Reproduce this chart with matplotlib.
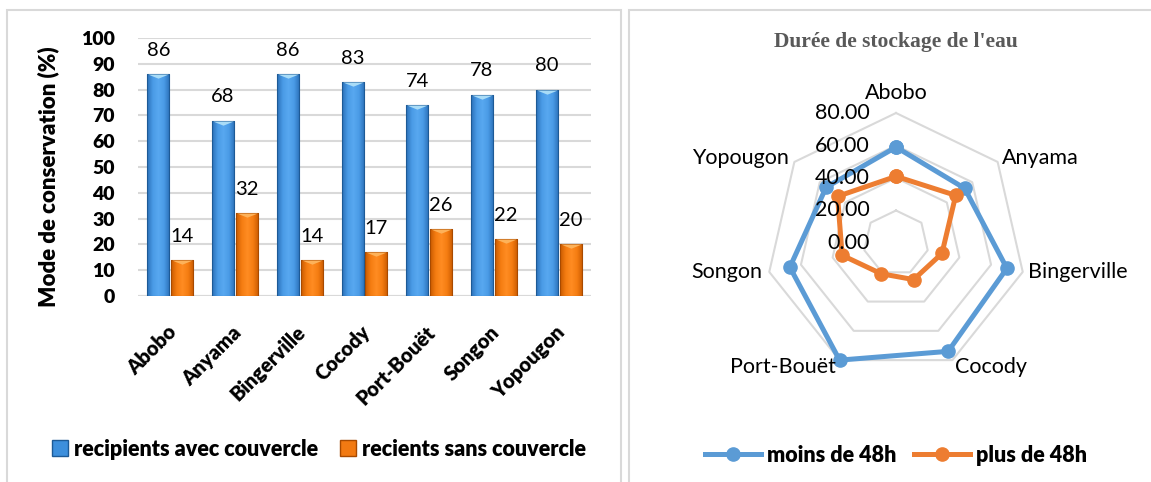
import numpy as np
import matplotlib
matplotlib.use("Agg")
import matplotlib.pyplot as plt
import matplotlib.transforms as mtransforms
from matplotlib.colors import LinearSegmentedColormap
from matplotlib.patches import Rectangle
from matplotlib.lines import Line2D

plt.rcParams['font.family'] = ['Lato', 'DejaVu Sans']

# data
communes = ['Abobo', 'Anyama', 'Bingerville', 'Cocody', 'Port-Bouët', 'Songon', 'Yopougon']
avec_couvercle = [86, 68, 86, 83, 74, 78, 80]
sans_couvercle = [14, 32, 14, 17, 26, 22, 20]
bar_series = ['recipients avec couvercle', 'recients sans couvercle']

moins_48h = [59, 54, 70, 74, 80, 67, 55]
plus_48h = [41, 47, 29, 25, 21, 34, 46]
radar_series = ['moins de 48h', 'plus de 48h']
radar_ticks = [0, 20, 40, 60, 80]

W, H = 1151, 482
fig = plt.figure(figsize=(W / 100, H / 100), dpi=100)

def px(x0, y0, w, h):
    # pixel box (from top-left) -> figure fraction
    return [x0 / W, 1 - (y0 + h) / H, w / W, h / H]

# panel borders
fig.patches.append(Rectangle((7 / W, -0.05), (621 - 7) / W, 1 - 9.5 / H + 0.05,
                             transform=fig.transFigure, fill=False,
                             edgecolor='#d9d9d9', lw=1.5))
fig.patches.append(Rectangle((629 / W, -0.05), 1.2, 1 - 9.5 / H + 0.05,
                             transform=fig.transFigure, fill=False,
                             edgecolor='#d9d9d9', lw=1.5))

# ---- bar chart ----
ax = fig.add_axes(px(138, 38, 453, 258))
x = np.arange(len(communes))
w, off = 0.34, 0.185
blue, blue_edge, blue_top = '#3d8fdc', '#1d5a96', '#a9dcf7'
orange, orange_edge, orange_top = '#f27a12', '#a84a00', '#fdb25a'
blue_cm = LinearSegmentedColormap.from_list('b', ['#2b70b8', '#4a9be6', '#58a8f0', '#4a9be6', '#2b70b8'])
orange_cm = LinearSegmentedColormap.from_list('o', ['#c95a00', '#f57d12', '#ff8c22', '#f57d12', '#c95a00'])
grad = np.linspace(0, 1, 64).reshape(1, -1)

bars_b = ax.bar(x - off, avec_couvercle, w, color='none', edgecolor=blue_edge, lw=0.8, zorder=4)
bars_o = ax.bar(x + off, sans_couvercle, w, color='none', edgecolor=orange_edge, lw=0.8, zorder=4)
for bars, cm in ((bars_b, blue_cm), (bars_o, orange_cm)):
    for p in bars:
        x0, y0 = p.get_x(), p.get_y()
        im = ax.imshow(grad, extent=[x0, x0 + p.get_width(), y0, y0 + p.get_height()],
                       aspect='auto', cmap=cm, zorder=3)
        im.set_clip_path(p)

tri = [(-1, 0), (1, 0), (0, -0.4)]
ax.scatter(x - off, avec_couvercle, marker=tri, s=15 ** 2, color=blue_top, lw=0, zorder=5)
ax.scatter(x + off, sans_couvercle, marker=tri, s=15 ** 2, color=orange_top, lw=0, zorder=5)

for xi, v in zip(x, avec_couvercle):
    ax.annotate(str(v), (xi - off, v), xytext=(0, 11), textcoords='offset points',
                ha='center', va='bottom', fontsize=14.5, clip_on=False)
for xi, v in zip(x, sans_couvercle):
    ax.annotate(str(v), (xi + off, v), xytext=(0, 11), textcoords='offset points',
                ha='center', va='bottom', fontsize=14.5, clip_on=False)

ax.set_xlim(-0.5, len(communes) - 0.5)
ax.set_ylim(0, 100)
ax.set_yticks(range(0, 101, 10))
ax.tick_params(axis='y', length=0, pad=16.5, labelsize=14)
for t in ax.get_yticklabels():
    t.set_fontweight('heavy')
ax.set_xticks(x)
ax.set_xticklabels(communes, rotation=45, ha='right', rotation_mode='anchor',
                   fontweight='heavy', fontsize=14.5)
ax.tick_params(axis='x', length=0, pad=19)
shift = mtransforms.ScaledTranslation(-4 / 100, 0, fig.dpi_scale_trans)
for t in ax.get_xticklabels():
    t.set_transform(t.get_transform() + shift)
ax.grid(axis='y', color='#d9d9d9', lw=1.5, zorder=0)
for s in ax.spines.values():
    s.set_visible(False)
ax.axhline(0, color='#d9d9d9', lw=1.5, zorder=1)
ax.set_ylabel('Mode de conservation (%)', fontweight='heavy', fontsize=16)
ax.yaxis.set_label_coords(-0.174, 0.461)

bar_handles = [Rectangle((0, 0), 1, 1, facecolor=blue, edgecolor=blue_edge),
               Rectangle((0, 0), 1, 1, facecolor=orange, edgecolor=orange_edge)]
fig.legend(bar_handles, bar_series, loc='center', bbox_to_anchor=(319 / W, 1 - 449 / H),
           ncol=2, frameon=False, handlelength=0.75, handleheight=0.75,
           handletextpad=0.3, columnspacing=1.0, prop={'weight': 'heavy', 'size': 15.5})

# ---- radar chart ----
cx, cy, R = 896, 243, 130
rax = fig.add_axes(px(cx - R, cy - R, 2 * R, 2 * R), projection='polar')
rax.set_theta_zero_location('N')
rax.set_theta_direction(-1)
rax.set_ylim(0, 80)
rax.grid(False)
rax.set_xticks([])
rax.set_yticks([])
rax.spines['polar'].set_visible(False)
rax.patch.set_alpha(0)

ang = np.linspace(0, 2 * np.pi, len(communes), endpoint=False)
ang_c = np.append(ang, ang[0])
for r in radar_ticks[1:]:
    rax.plot(ang_c, [r] * len(ang_c), color='#d9d9d9', lw=1.5, zorder=1, clip_on=False)

rax.plot(ang_c, moins_48h + moins_48h[:1], color='#5b9bd5', lw=3.6, marker='o',
         ms=9.5, zorder=3, clip_on=False)
rax.plot(ang_c, plus_48h + plus_48h[:1], color='#ed7d31', lw=3.6, marker='o',
         ms=9.5, zorder=4, clip_on=False)

for r in radar_ticks:
    rax.annotate(f'{r:.2f}', (0, r), xytext=(-19, 0), textcoords='offset points',
                 ha='right', va='center', fontsize=15.5, zorder=5, annotation_clip=False)

label_pos = [('center', 'bottom', 0, 7), ('left', 'center', 3, 3), ('left', 'center', 4, 0),
             ('left', 'top', 2, 2), ('right', 'top', -3, 2), ('right', 'center', -5, 0),
             ('right', 'center', -4, 3)]
for a, name, (ha, va, dx, dy) in zip(ang, communes, label_pos):
    rax.annotate(name, (a, 80), xytext=(dx, dy), textcoords='offset points',
                 ha=ha, va=va, fontsize=15.5, annotation_clip=False)

fig.text(cx / W, 1 - 42 / H, "Durée de stockage de l'eau", family='Liberation Serif',
         fontweight='bold', fontsize=15.5, color='#595959', ha='center', va='center')

radar_handles = [Line2D([], [], color='#5b9bd5', lw=3.6, marker='o', ms=9.5),
                 Line2D([], [], color='#ed7d31', lw=3.6, marker='o', ms=9.5)]
fig.legend(radar_handles, radar_series, loc='center', bbox_to_anchor=(cx / W, 1 - 455 / H),
           ncol=2, frameon=False, handlelength=2.6, handletextpad=0.3, columnspacing=0.8,
           prop={'weight': 'heavy', 'size': 15.5})

fig.savefig('out.png', dpi=100)
